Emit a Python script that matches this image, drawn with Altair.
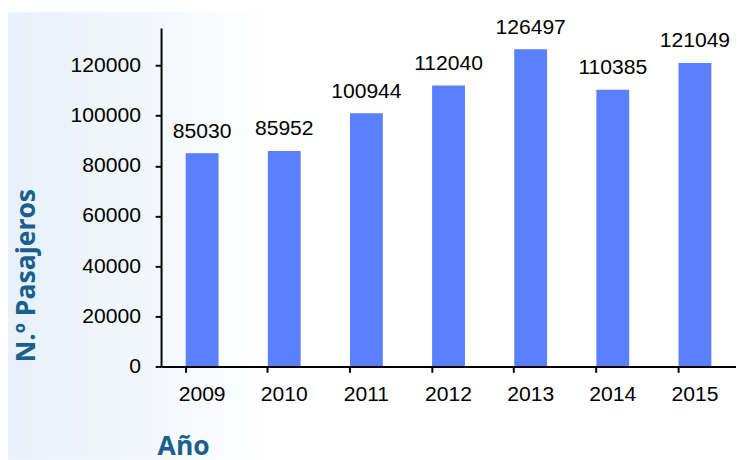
import altair as alt
import pandas as pd

years = ["2009", "2010", "2011", "2012", "2013", "2014", "2015"]
passengers = [85030, 85952, 100944, 112040, 126497, 110385, 121049]
y_ticks = [0, 20000, 40000, 60000, 80000, 100000, 120000]

df = pd.DataFrame({"Año": years, "Pasajeros": passengers})

BAR = "#5A80FF"
TITLE = "#1A5F8E"
LABEL_FONT = "Liberation Sans"

PAD_L, PAD_T = 156, 16

bg = alt.Chart(pd.DataFrame({"d": [0]})).mark_rect(
    color=alt.LinearGradient(
        gradient="linear",
        x1=0, x2=1, y1=0, y2=0,
        stops=[
            alt.GradientStop(offset=0, color="#E7F1F9"),
            alt.GradientStop(offset=0.5, color="#F1F6FB"),
            alt.GradientStop(offset=1, color="#FFFFFF"),
        ],
    ),
    clip=False,
).encode(
    x=alt.value(-PAD_L), x2=alt.value(110), y=alt.value(-PAD_T), y2=alt.value(440)
)

base = alt.Chart(df)

bars = base.mark_bar(color=BAR).encode(
    x=alt.X(
        "Año:N",
        sort=years,
        scale=alt.Scale(paddingInner=0.6, paddingOuter=0.3),
        axis=alt.Axis(
            title="Año",
            zindex=1,
            labelAngle=0,
            labelFont=LABEL_FONT,
            labelFontSize=21.5,
            labelColor="#000000",
            labelPadding=12,
            tickSize=6,
            tickWidth=2,
            tickColor="#000000",
            domainColor="#000000",
            domainWidth=2,
            bandPosition=0,
            titleFont="Open Sans",
            titleFontWeight="bold",
            titleFontSize=27,
            titleColor=TITLE,
            titleAlign="left",
            titleBaseline="alphabetic",
            titleX=-4,
            titleY=90,
        ),
    ),
    y=alt.Y(
        "Pasajeros:Q",
        scale=alt.Scale(domain=[0, 135000], nice=False),
        axis=alt.Axis(
            title="N.º Pasajeros",
            zindex=1,
            values=y_ticks,
            format="d",
            grid=False,
            labelFont=LABEL_FONT,
            labelFontSize=21.5,
            labelColor="#000000",
            labelPadding=15,
            tickSize=6,
            tickWidth=2,
            tickColor="#000000",
            domainColor="#000000",
            domainWidth=2,
            titleFont="Open Sans",
            titleFontWeight="bold",
            titleFontSize=27,
            titleColor=TITLE,
            titleAngle=270,
            titleAlign="center",
            titleBaseline="middle",
            titleX=-137,
            titleY=252,
        ),
    ),
)

labels = base.mark_text(
    font=LABEL_FONT, fontSize=21.5, color="#000000", baseline="alphabetic", dy=-16
).encode(
    x=alt.X("Año:N", sort=years),
    y="Pasajeros:Q",
    text=alt.Text("Pasajeros:Q", format="d"),
)

chart = alt.layer(bg, bars, labels).properties(
    width=586,
    height=345,
    autosize=alt.AutoSizeParams(type="none"),
    padding={"left": PAD_L, "top": PAD_T, "right": 0, "bottom": 91},
    background="#FFFFFF",
).configure_view(stroke=None)

chart.save("out.html", embed_options={"renderer": "svg", "actions": False})
